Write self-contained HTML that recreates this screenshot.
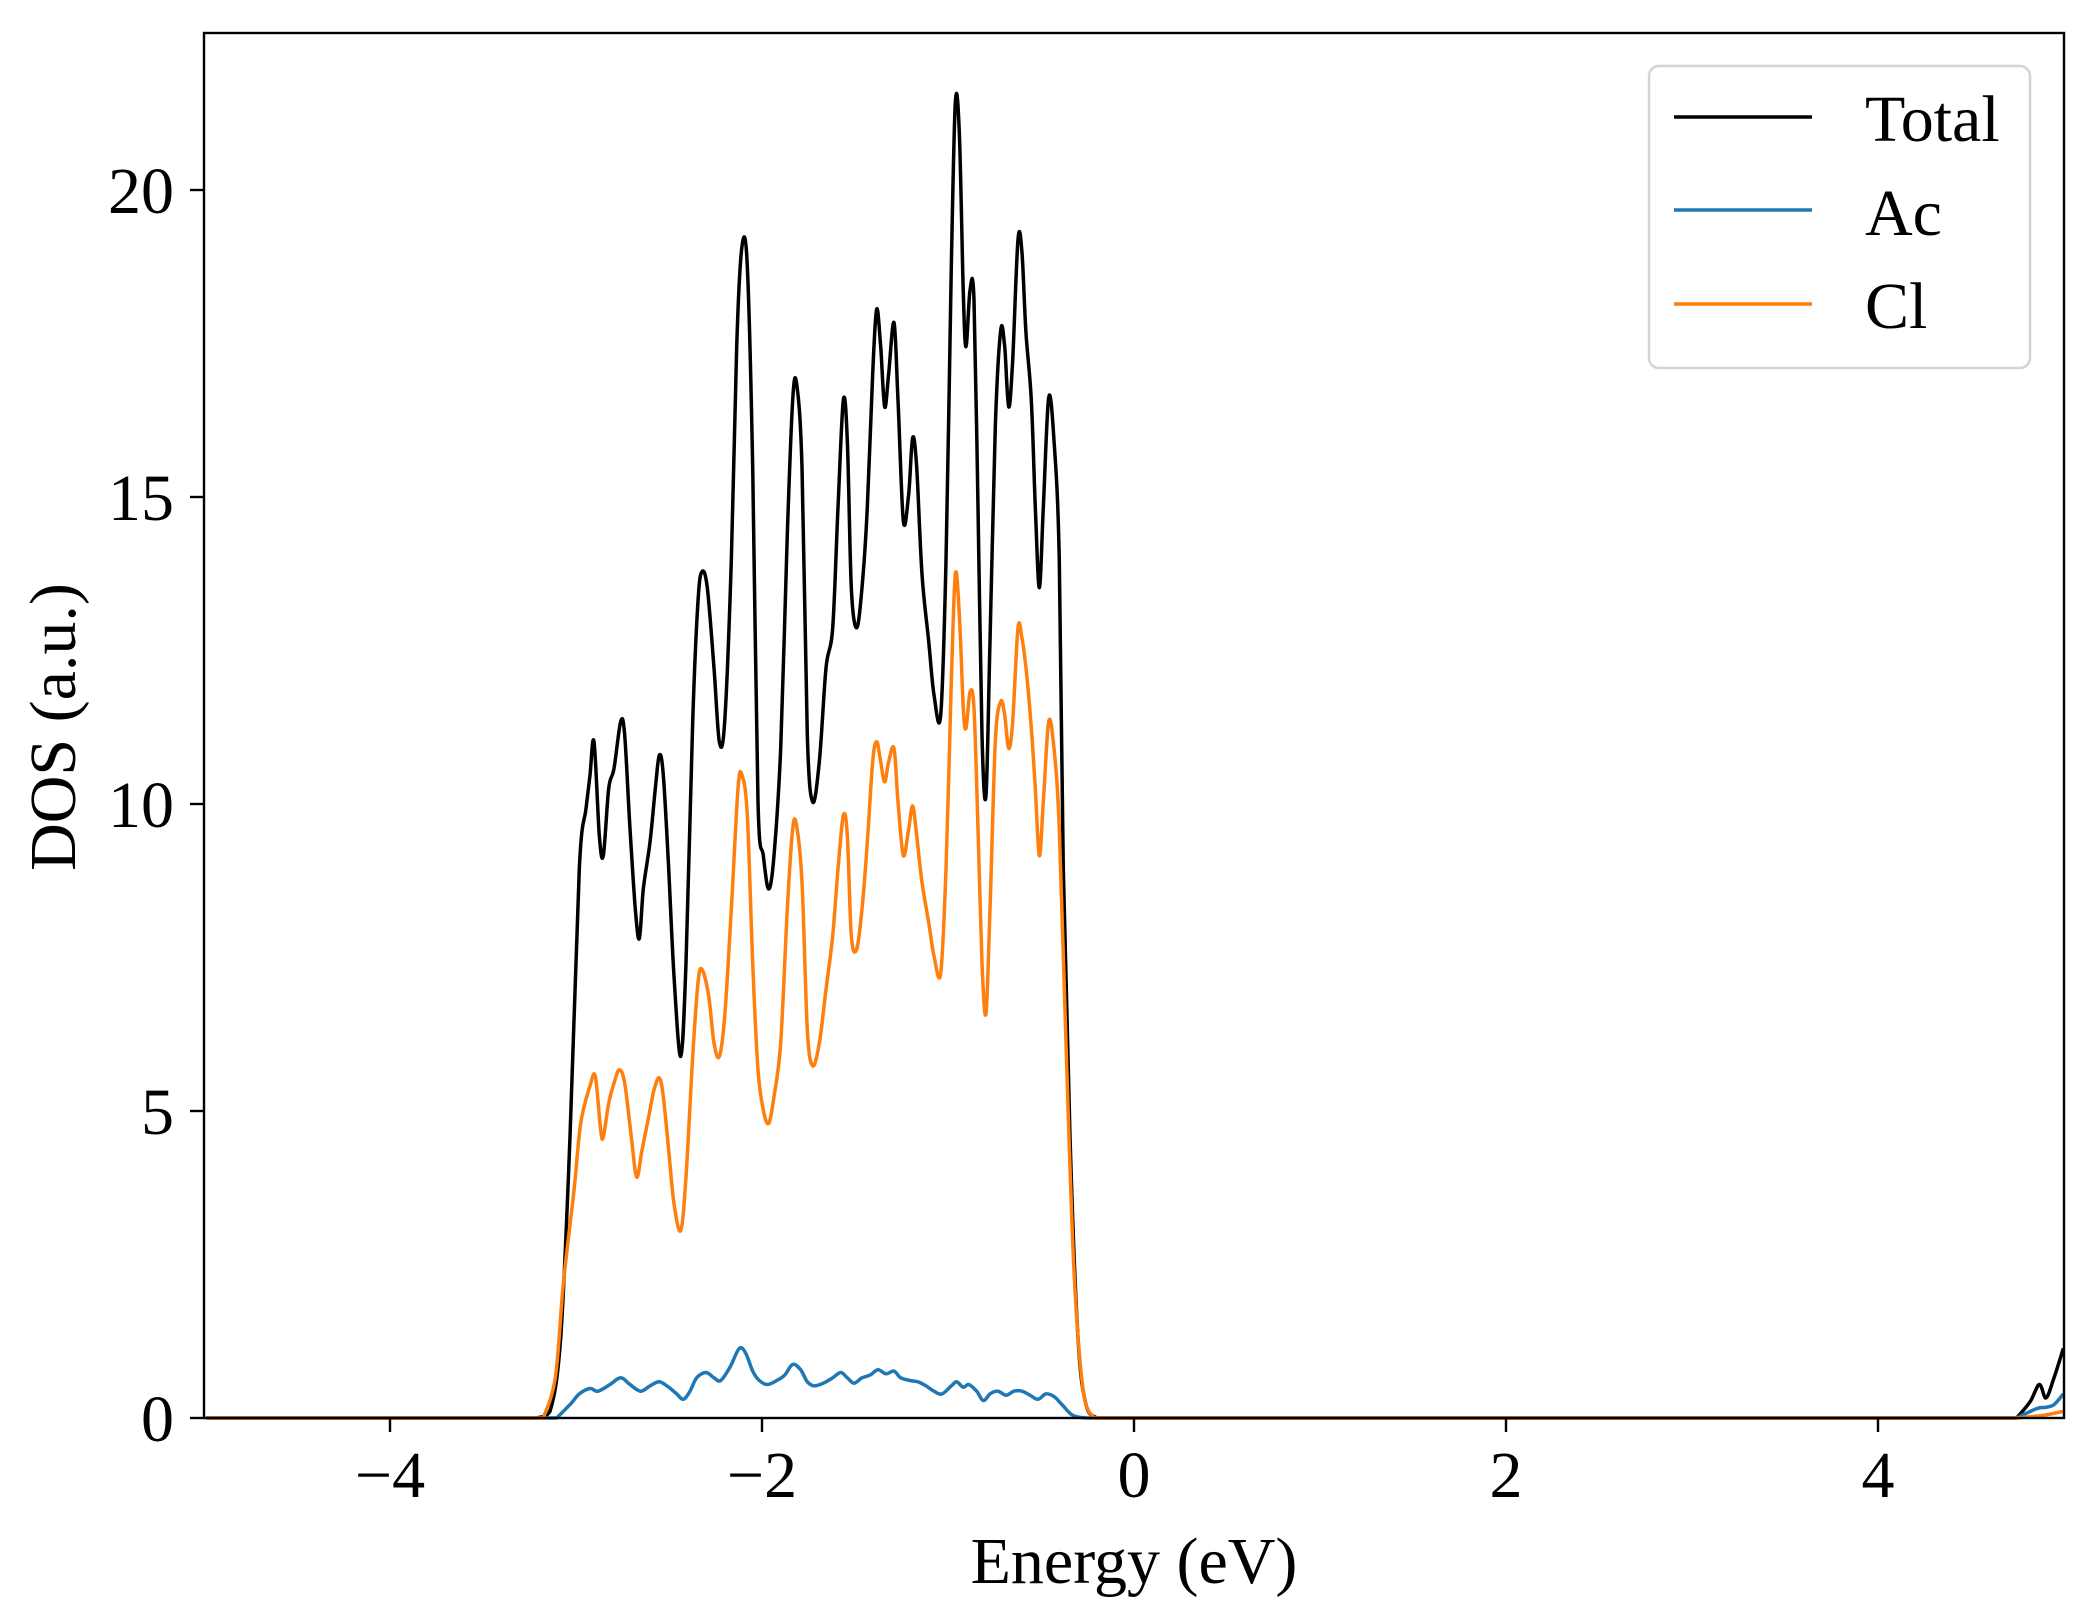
<!DOCTYPE html>
<html><head><meta charset="utf-8">
<style>
html,body{margin:0;padding:0;background:#fff;}
svg{display:block;}
text{font-family:"Liberation Serif","DejaVu Serif",serif;fill:#000;}
</style></head>
<body>
<svg id="s" width="2097" height="1617" viewBox="0 0 2097 1617" xmlns="http://www.w3.org/2000/svg">
<rect x="0" y="0" width="2097" height="1617" fill="#fff"/>
<g id="curves"></g>
<rect x="204" y="33" width="1860" height="1385" fill="none" stroke="#000" stroke-width="2.4"/>
<g stroke="#000" stroke-width="2.4">
<line x1="390" y1="1418" x2="390" y2="1432"/>
<line x1="762" y1="1418" x2="762" y2="1432"/>
<line x1="1134" y1="1418" x2="1134" y2="1432"/>
<line x1="1506" y1="1418" x2="1506" y2="1432"/>
<line x1="1878" y1="1418" x2="1878" y2="1432"/>
<line x1="190" y1="1418" x2="204" y2="1418"/>
<line x1="190" y1="1111" x2="204" y2="1111"/>
<line x1="190" y1="804" x2="204" y2="804"/>
<line x1="190" y1="497" x2="204" y2="497"/>
<line x1="190" y1="190" x2="204" y2="190"/>
</g>
<g font-size="66" text-anchor="middle">
<text x="390" y="1497">−4</text>
<text x="762" y="1497">−2</text>
<text x="1134" y="1497">0</text>
<text x="1506" y="1497">2</text>
<text x="1878" y="1497">4</text>
</g>
<g font-size="66" text-anchor="end">
<text x="174" y="1441">0</text>
<text x="174" y="1134">5</text>
<text x="174" y="827">10</text>
<text x="174" y="520">15</text>
<text x="174" y="213">20</text>
</g>
<text x="1134" y="1583" font-size="66" text-anchor="middle">Energy (eV)</text>
<text transform="translate(75,727) rotate(-90)" font-size="66" text-anchor="middle">DOS (a.u.)</text>
<rect x="1649" y="66" width="381" height="302" rx="10" ry="10" fill="#fff" fill-opacity="0.8" stroke="#d4d4d4" stroke-width="2.5"/>
<line x1="1674" y1="117" x2="1812" y2="117" stroke="#000" stroke-width="3.5"/>
<line x1="1674" y1="210" x2="1812" y2="210" stroke="#1f77b4" stroke-width="3.5"/>
<line x1="1674" y1="304" x2="1812" y2="304" stroke="#ff7f0e" stroke-width="3.5"/>
<g font-size="66">
<text x="1865" y="141">Total</text>
<text x="1865" y="235">Ac</text>
<text x="1865" y="328">Cl</text>
</g>
</svg>
<script>
function mp(p){var E=(p[0]-848)/139.5,V=(1060-p[1])/45.85;return [204+(E+5)*186,1418-V*61.4];}
function path(pts){pts=pts.map(mp);var d="M"+pts[0][0].toFixed(1)+","+pts[0][1].toFixed(1);
for(var i=0;i<pts.length-1;i++){var p1=pts[i],p2=pts[i+1];
if(p2[0]-p1[0]>40){d+=" L"+p2[0].toFixed(1)+","+p2[1].toFixed(1);continue;}
var p0=pts[i-1]||p1,p3=pts[i+2]||p2;
if(p1[0]-p0[0]>40)p0=p1; if(p3[0]-p2[0]>40)p3=p2;
var c1=[p1[0]+(p2[0]-p0[0])/6,p1[1]+(p2[1]-p0[1])/6],c2=[p2[0]-(p3[0]-p1[0])/6,p2[1]-(p3[1]-p1[1])/6];
c1[1]=Math.min(c1[1],1418);c2[1]=Math.min(c2[1],1418);
d+=" C"+c1[0].toFixed(1)+","+c1[1].toFixed(1)+" "+c2[0].toFixed(1)+","+c2[1].toFixed(1)+" "+p2[0].toFixed(1)+","+p2[1].toFixed(1);}
return d;}
var T=[[152,1060],[400,1060],[410,1055],[418,1000],[425,850],[432,650],[437,605],[440,580],[443,555],[447,625],[450,640],[454,590],[458,575],[463,540],[466,550],[470,620],[474,680],[477,702],[480,665],[485,630],[489,590],[492,565],[495,580],[499,650],[503,730],[508,790],[512,720],[517,540],[521,450],[524,428],[528,440],[533,500],[537,555],[541,540],[546,420],[550,260],[554,185],[558,200],[562,350],[566,600],[570,640],[574,665],[578,640],[583,560],[588,400],[592,300],[595,288],[599,350],[603,550],[607,600],[612,570],[617,500],[622,470],[626,380],[630,300],[633,330],[636,440],[640,470],[644,440],[648,380],[652,280],[655,232],[658,260],[661,305],[664,280],[668,242],[671,300],[675,390],[679,370],[682,328],[685,350],[689,430],[694,480],[698,520],[703,535],[707,420],[711,200],[714,78],[717,100],[720,220],[722,260],[725,218],[728,225],[731,380],[734,550],[737,595],[740,480],[744,320],[748,248],[751,260],[754,305],[757,270],[761,180],[764,190],[767,250],[771,300],[774,380],[777,440],[780,380],[784,298],[788,330],[792,420],[795,650],[800,850],[806,1000],[812,1050],[820,1060],[1510,1060],[1520,1048],[1527,1035],[1532,1045],[1538,1030],[1545,1008]];
var C=[[152,1060],[405,1060],[414,1030],[420,960],[428,890],[433,840],[440,812],[444,805],[448,845],[450,850],[454,825],[458,810],[462,800],[466,810],[471,850],[475,880],[479,860],[484,835],[488,815],[492,806],[495,820],[499,860],[503,900],[508,920],[512,880],[517,790],[521,735],[524,725],[529,745],[533,780],[537,790],[541,760],[546,680],[551,590],[554,580],[558,610],[562,720],[566,800],[570,830],[574,840],[578,820],[583,780],[588,680],[592,620],[595,618],[599,660],[603,770],[607,797],[612,780],[617,740],[622,700],[626,650],[630,610],[633,625],[636,700],[640,710],[644,680],[648,630],[652,570],[655,555],[658,570],[661,585],[664,570],[668,560],[671,600],[675,640],[679,620],[682,603],[685,625],[689,660],[694,690],[698,715],[703,728],[707,650],[711,510],[714,430],[717,460],[720,530],[722,545],[725,518],[728,530],[731,620],[734,720],[737,758],[740,680],[744,555],[748,525],[751,535],[754,560],[757,540],[761,470],[764,478],[767,500],[771,545],[774,590],[777,640],[780,600],[784,540],[788,560],[792,620],[797,780],[803,950],[810,1040],[818,1060],[1510,1060],[1530,1058],[1545,1055]];
var A=[[152,1060],[415,1060],[425,1050],[432,1042],[440,1038],[446,1040],[455,1035],[463,1030],[470,1035],[478,1040],[485,1036],[492,1033],[499,1037],[505,1042],[510,1046],[515,1040],[520,1030],[527,1026],[533,1030],[538,1032],[545,1022],[552,1008],[557,1012],[562,1025],[567,1032],[573,1035],[580,1032],[586,1028],[592,1020],[598,1024],[603,1033],[608,1036],[615,1034],[622,1030],[628,1026],[633,1030],[638,1034],[644,1030],[650,1028],[656,1024],[662,1027],[668,1025],[673,1030],[680,1032],[686,1033],[692,1036],[698,1040],[704,1042],[711,1036],[715,1033],[720,1037],[724,1035],[730,1040],[735,1047],[740,1042],[746,1040],[752,1043],[758,1040],[764,1040],[770,1043],[776,1046],[782,1042],[788,1044],[794,1050],[802,1058],[812,1060],[1510,1060],[1525,1053],[1532,1052],[1538,1050],[1545,1042]];
var g=document.getElementById("curves"),ns="http://www.w3.org/2000/svg";
[[T,"#000"],[A,"#1f77b4"],[C,"#ff7f0e"]].forEach(function(s){var p=document.createElementNS(ns,"path");p.setAttribute("d",path(s[0]));p.setAttribute("fill","none");p.setAttribute("stroke",s[1]);p.setAttribute("stroke-width","3.5");p.setAttribute("stroke-linejoin","round");g.appendChild(p);});
</script>
</body></html>
